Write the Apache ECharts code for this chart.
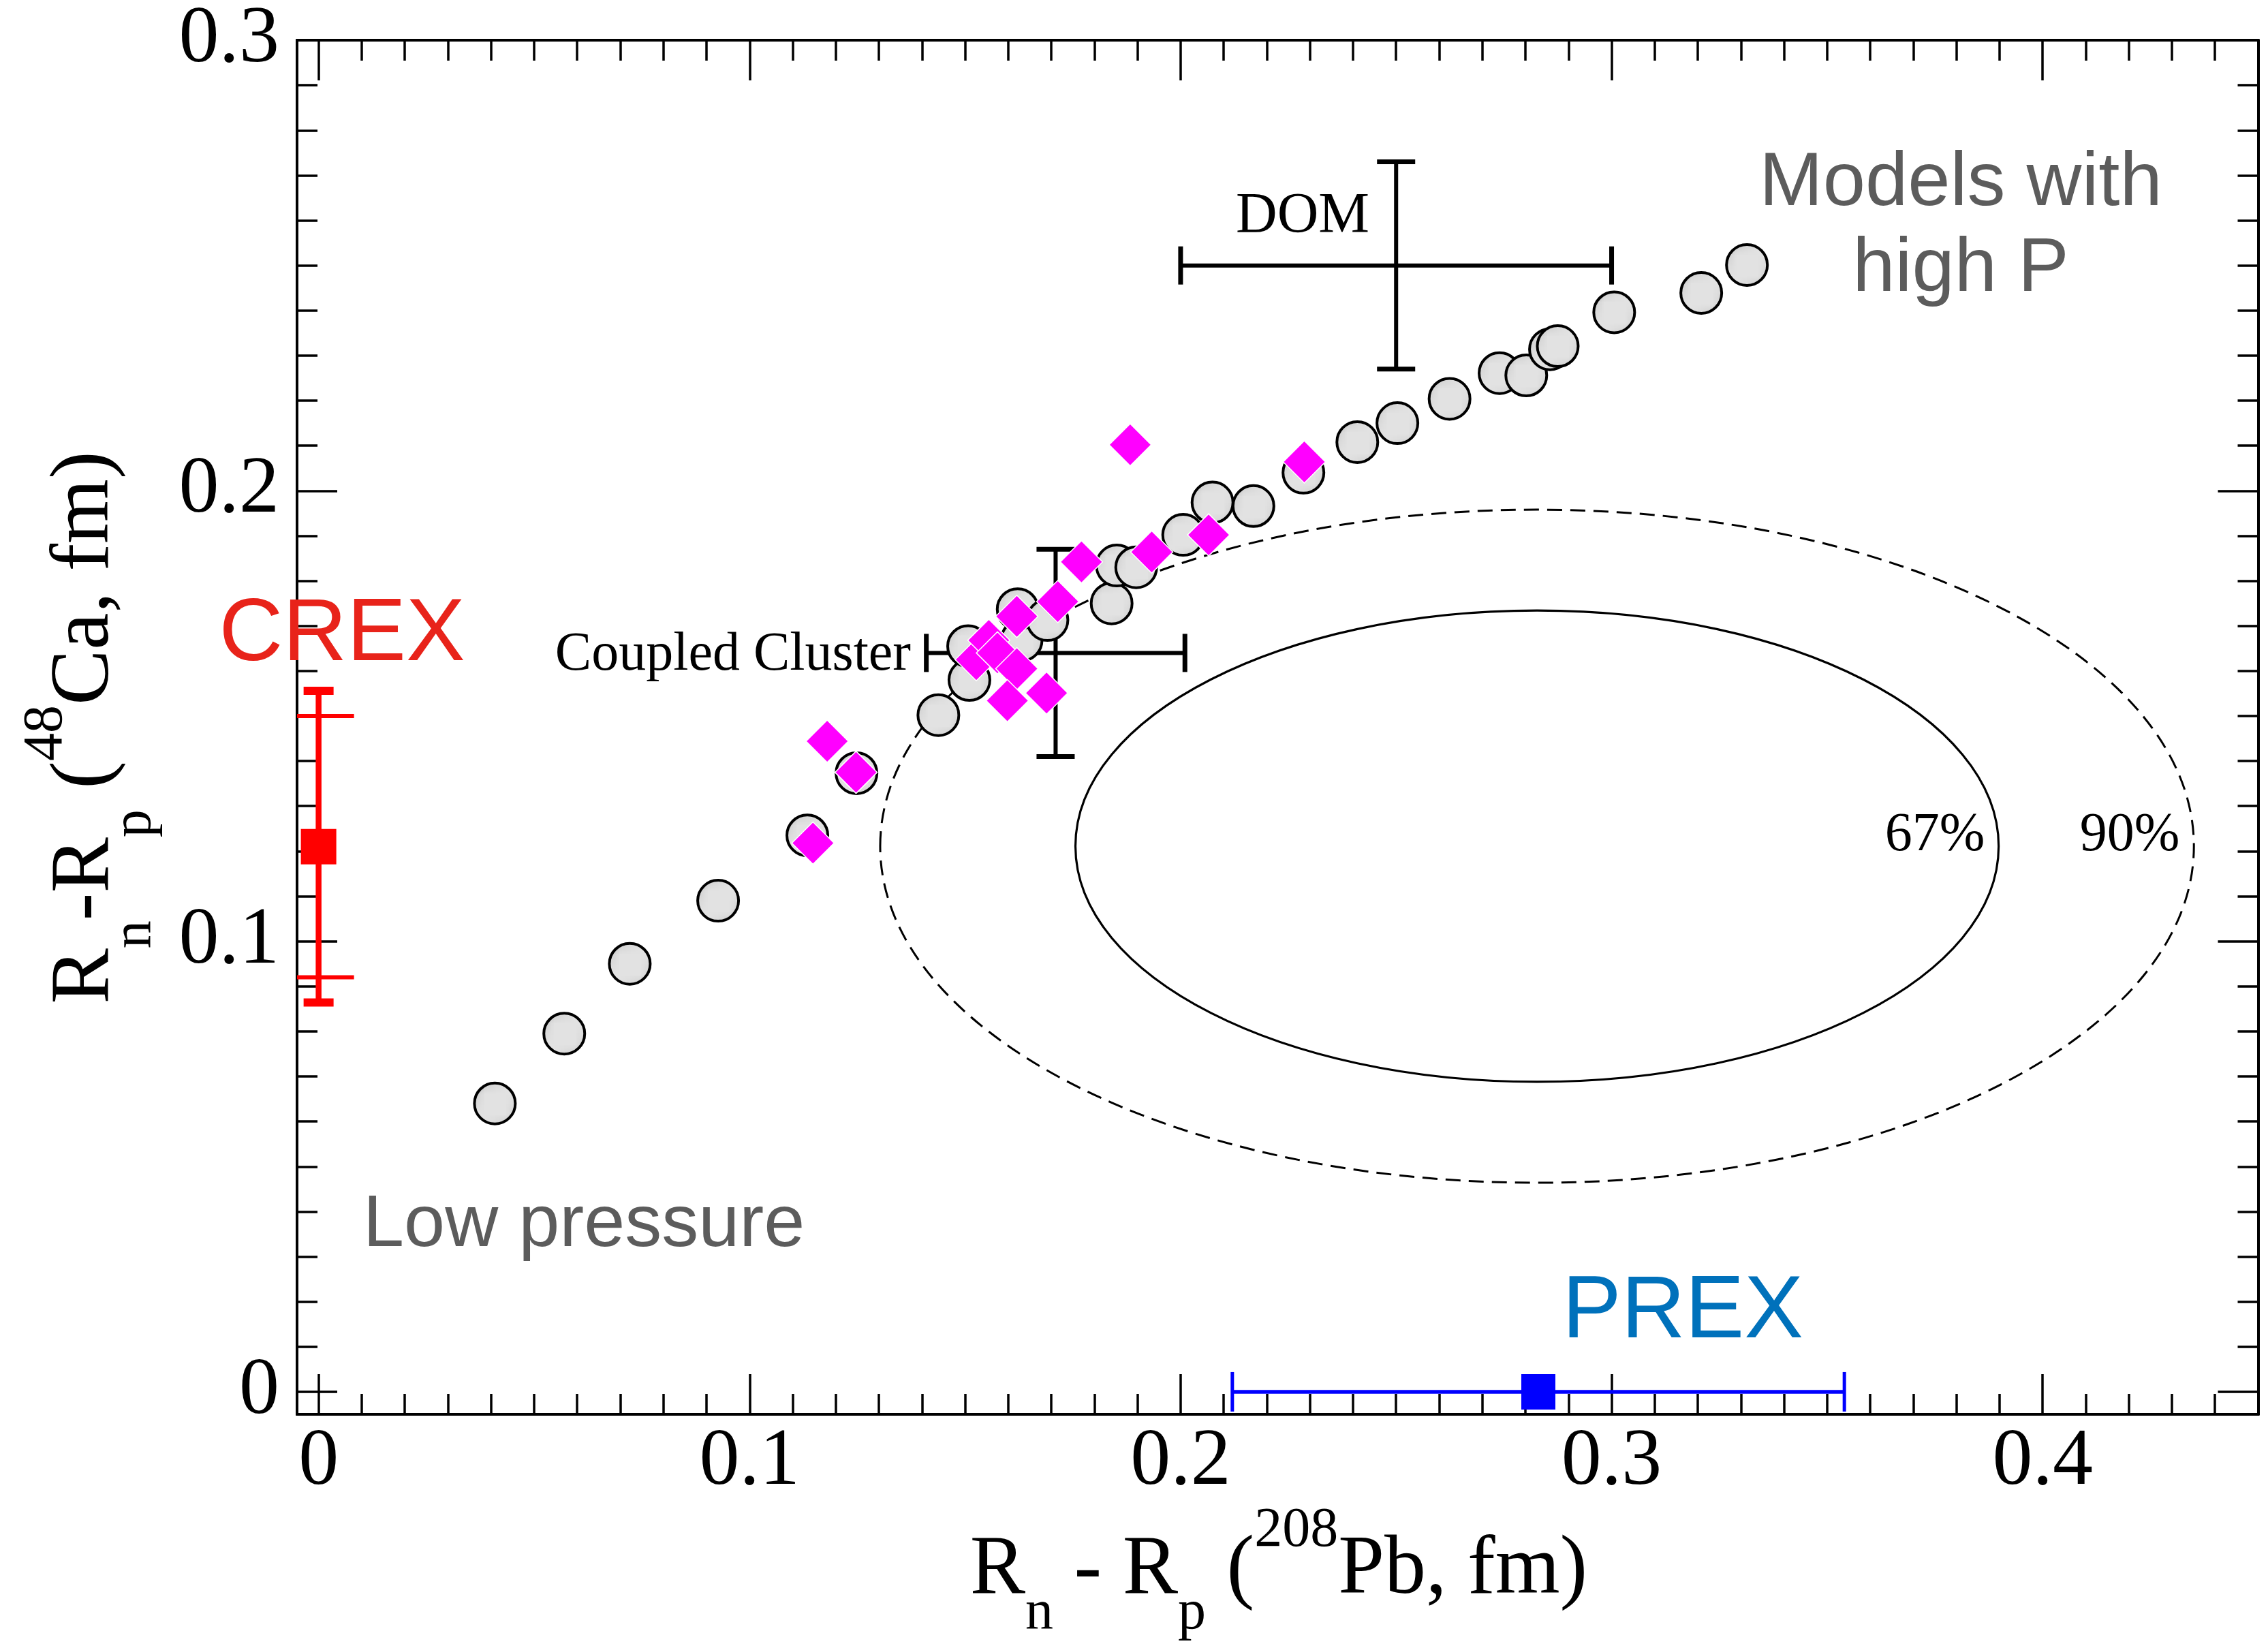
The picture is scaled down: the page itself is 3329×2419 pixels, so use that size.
<!DOCTYPE html>
<html>
<head>
<meta charset="utf-8">
<script src="https://cdn.jsdelivr.net/npm/echarts@6.0.0/dist/echarts.min.js"></script>
<style>
  html, body { margin: 0; padding: 0; background: #ffffff; }
  #chart { width: 3329px; height: 2419px; }
</style>
</head>
<body>
<div id="chart"></div>
<script>
// ---- Neutron-skin thickness: 208Pb (x) vs 48Ca (y), in fm ----

// Energy-density-functional models (stippled circles)
const circlePb = [0.0409, 0.0570, 0.0722, 0.0927, 0.1134, 0.1248, 0.1438, 0.1510, 0.1507, 0.1631,
                  0.1622, 0.1691, 0.1840, 0.1852, 0.1897, 0.2006, 0.2074, 0.2169, 0.2285, 0.2410,
                  0.2503, 0.2624, 0.2740, 0.2802, 0.2857, 0.2875, 0.3006, 0.3208, 0.3314];
const circleCa = [0.0640, 0.0795, 0.0950, 0.1090, 0.1235, 0.1373, 0.1502, 0.1580, 0.1655, 0.1668,
                  0.1737, 0.1713, 0.1750, 0.1834, 0.1830, 0.1902, 0.1974, 0.1966, 0.2040, 0.2108,
                  0.2150, 0.2204, 0.2261, 0.2256, 0.2314, 0.2321, 0.2396, 0.2439, 0.2501];

// Additional model set (magenta diamonds)
const diamondPb = [0.1147, 0.1180, 0.1247, 0.1526, 0.1555, 0.1575, 0.1620, 0.1620, 0.1598, 0.1689,
                   0.1715, 0.1770, 0.1883, 0.1933, 0.2065, 0.2287];
const diamondCa = [0.1218, 0.1444, 0.1375, 0.1625, 0.1668, 0.1640, 0.1721, 0.1605, 0.1534, 0.1551,
                   0.1754, 0.1842, 0.2102, 0.1864, 0.1902, 0.2064];

// Ab initio / optical-model estimates with uncertainties
const domCenter = [0.250, 0.250];
const domErr = [0.050, 0.023];
const ccCenter = [0.171, 0.164];
const ccErr = [0.030, 0.023];

// Parity-violation measurements
const prexValue = 0.283;
const prexErr = 0.071;
const crexValue = 0.121;
const crexErrInner = 0.029;
const crexErrOuter = 0.0346;

// Joint confidence contours (axis-aligned ellipses)
const contourLevels = ['67%', '90%'];
const contourCenter = [0.2827, 0.1211];
const contourSemiPb = [0.1071, 0.1524];
const contourSemiCa = [0.0523, 0.0747];

// Axis ticks
const xTickValues = [0, 0.1, 0.2, 0.3, 0.4];
const yTickValues = [0, 0.1, 0.2, 0.3];
const xMinorValues = [];
for (let i = 0; i <= 44; i++) xMinorValues.push(+(i * 0.01).toFixed(2));
const yMinorValues = [];
for (let i = 0; i <= 30; i++) yMinorValues.push(+(i * 0.01).toFixed(2));

const X_MIN = -0.005, X_MAX = 0.45;
const Y_MIN = -0.005, Y_MAX = 0.3;

const SERIF = 'Liberation Serif';
const SANS = 'Liberation Sans';

// Stipple fill for the circle markers
const stipple = document.createElement('canvas');
stipple.width = 9; stipple.height = 9;
(function () {
  const g = stipple.getContext('2d');
  g.fillStyle = '#e2e2e2';
  g.fillRect(0, 0, 9, 9);
  g.fillStyle = '#262626';
  g.beginPath(); g.arc(2.25, 2.25, 1.7, 0, Math.PI * 2); g.fill();
  g.beginPath(); g.arc(6.75, 6.75, 1.7, 0, Math.PI * 2); g.fill();
})();

function zip(a, b) { return a.map((v, i) => [v, b[i]]); }

function makeX(position, values, len, width, withLabels) {
  return {
    type: 'value', position: position, min: X_MIN, max: X_MAX,
    axisLine: { show: true, onZero: false, lineStyle: { color: '#000', width: 4 } },
    axisTick: { show: true, inside: true, length: len, customValues: values,
                lineStyle: { color: '#000', width: width } },
    axisLabel: withLabels ? {
      show: true, customValues: values, margin: 12, color: '#000',
      fontFamily: SERIF, fontSize: 118
    } : { show: false },
    splitLine: { show: false }
  };
}
function makeY(position, values, len, width, withLabels) {
  return {
    type: 'value', position: position, min: Y_MIN, max: Y_MAX,
    axisLine: { show: true, onZero: false, lineStyle: { color: '#000', width: 4 } },
    axisTick: { show: true, inside: true, length: len, customValues: values,
                lineStyle: { color: '#000', width: width } },
    axisLabel: withLabels ? {
      show: true, customValues: values, margin: 26, color: '#000',
      fontFamily: SERIF, fontSize: 118
    } : { show: false },
    splitLine: { show: false }
  };
}

function seg(a, b, w, color) {
  return { type: 'line', shape: { x1: a[0], y1: a[1], x2: b[0], y2: b[1] },
           style: { stroke: color, lineWidth: w } };
}

function titleRich(subShift, supShift) {
  return {
    m: { fontFamily: SERIF, fontSize: 122, lineHeight: 150, color: '#000' },
    s: { fontFamily: SERIF, fontSize: 82, lineHeight: 150, color: '#000', padding: [2 * subShift, 0, 0, 0] },
    u: { fontFamily: SERIF, fontSize: 82, lineHeight: 150, color: '#000', padding: [0, 0, 2 * supShift, 0] }
  };
}

function label(text, x, y, font, size, color, align) {
  return {
    type: 'text', x: x, y: y, z: 10,
    style: {
      text: text, fontFamily: font, fontSize: size, fill: color,
      align: align || 'center', verticalAlign: 'middle',
      textAlign: align || 'center', textVerticalAlign: 'middle'
    }
  };
}

const chart = echarts.init(document.getElementById('chart'), null, { renderer: 'canvas' });

const option = {
  animation: false,
  backgroundColor: '#ffffff',
  grid: { left: 436, top: 59, right: 14.5, bottom: 343, containLabel: false, outerBoundsMode: 'none' },
  xAxis: [
    makeX('bottom', xTickValues, 59, 3.5, true),
    makeX('bottom', xMinorValues, 30, 3.5, false),
    makeX('top', xTickValues, 59, 3.5, false),
    makeX('top', xMinorValues, 30, 3.5, false)
  ],
  yAxis: [
    makeY('left', yTickValues, 59, 3.5, true),
    makeY('left', yMinorValues, 30, 3.5, false),
    makeY('right', yTickValues, 59, 3.5, false),
    makeY('right', yMinorValues, 30, 3.5, false)
  ],
  series: [
    {
      name: 'models', type: 'scatter', data: zip(circlePb, circleCa),
      symbol: 'circle', symbolSize: 60,
      itemStyle: { color: { image: stipple, repeat: 'repeat' }, borderColor: '#000', borderWidth: 4, opacity: 1 }
    },
    {
      name: 'models-2', type: 'scatter', data: zip(diamondPb, diamondCa),
      symbol: 'diamond', symbolSize: 62,
      itemStyle: { color: '#ff00ff', borderColor: '#ffffff', borderWidth: 1.5, opacity: 1 }
    },
    {
      name: 'contours', type: 'custom', clip: true,
      data: contourLevels.map((lv, i) => [contourCenter[0], contourCenter[1], contourSemiPb[i], contourSemiCa[i], i]),
      renderItem: function (params, api) {
        const c = api.coord([api.value(0), api.value(1)]);
        const rx = api.size([api.value(2), 0])[0];
        const ry = api.size([0, api.value(3)])[1];
        const outer = api.value(4) === 1;
        return {
          type: 'ellipse',
          shape: { cx: c[0], cy: c[1], rx: rx, ry: ry },
          style: { fill: 'none', stroke: '#000', lineWidth: outer ? 3 : 3.2, lineDash: outer ? [22, 12] : null }
        };
      }
    },
    {
      name: 'theory-bars', type: 'custom', clip: true,
      data: [[domCenter[0], domCenter[1], domErr[0], domErr[1]],
             [ccCenter[0], ccCenter[1], ccErr[0], ccErr[1]]],
      renderItem: function (params, api) {
        const x = api.value(0), y = api.value(1), ex = api.value(2), ey = api.value(3);
        const L = api.coord([x - ex, y]), R = api.coord([x + ex, y]);
        const T = api.coord([x, y + ey]), B = api.coord([x, y - ey]);
        const h = 28, w = 6, cw = 7;
        return {
          type: 'group', children: [
            seg(L, R, w, '#000'),
            seg(T, B, w, '#000'),
            seg([L[0], L[1] - h], [L[0], L[1] + h], cw, '#000'),
            seg([R[0], R[1] - h], [R[0], R[1] + h], cw, '#000'),
            seg([T[0] - h, T[1]], [T[0] + h, T[1]], cw, '#000'),
            seg([B[0] - h, B[1]], [B[0] + h, B[1]], cw, '#000')
          ]
        };
      }
    },
    {
      name: 'PREX-bar', type: 'custom', clip: true,
      data: [[prexValue, 0, prexErr]],
      renderItem: function (params, api) {
        const x = api.value(0), y = api.value(1), ex = api.value(2);
        const L = api.coord([x - ex, y]), R = api.coord([x + ex, y]);
        const col = '#0000ff', h = 29;
        return {
          type: 'group', children: [
            seg(L, R, 5.5, col),
            seg([L[0], L[1] - h], [L[0], L[1] + h], 5, col),
            seg([R[0], R[1] - h], [R[0], R[1] + h], 5, col)
          ]
        };
      }
    },
    {
      name: 'CREX-bar', type: 'custom', clip: true,
      data: [[0, crexValue, crexErrInner, crexErrOuter]],
      renderItem: function (params, api) {
        const x = api.value(0), y = api.value(1), e1 = api.value(2), e2 = api.value(3);
        const T2 = api.coord([x, y + e2]), B2 = api.coord([x, y - e2]);
        const T1 = api.coord([x, y + e1]), B1 = api.coord([x, y - e1]);
        const col = '#ff0000';
        return {
          type: 'group', children: [
            seg(T2, B2, 8.5, col),
            seg([T1[0] - 52, T1[1]], [T1[0] + 52, T1[1]], 6, col),
            seg([B1[0] - 52, B1[1]], [B1[0] + 52, B1[1]], 6, col),
            seg([T2[0] - 22, T2[1]], [T2[0] + 22, T2[1]], 12, col),
            seg([B2[0] - 22, B2[1]], [B2[0] + 22, B2[1]], 12, col)
          ]
        };
      }
    },
    {
      name: 'PREX', type: 'scatter', data: [[prexValue, 0]],
      symbol: 'rect', symbolSize: [50, 52],
      itemStyle: { color: '#0000ff', opacity: 1 }
    },
    {
      name: 'CREX', type: 'scatter', data: [[0, crexValue]],
      symbol: 'rect', symbolSize: [52, 52],
      itemStyle: { color: '#ff0000', opacity: 1 }
    }
  ],
  graphic: [
    // axis titles
    {
      type: 'text', x: 1877, y: 2306, z: 10,
      style: {
        text: '{m|R}{s|n}{m| - R}{s|p}{m| (}{u|208}{m|Pb, fm)}',
        rich: titleRich(62, 59),
        align: 'center', verticalAlign: 'middle', textAlign: 'center', textVerticalAlign: 'middle'
      }
    },
    {
      type: 'text', x: 126, y: 1068, rotation: Math.PI / 2, z: 10,
      style: {
        text: '{m|R}{s|n}{m|-R}{s|p}{m| (}{u|48}{m|Ca, fm)}',
        rich: titleRich(72, 58),
        align: 'center', verticalAlign: 'middle', textAlign: 'center', textVerticalAlign: 'middle'
      }
    },
    // annotations
    label('CREX', 502, 933, SANS, 130, '#e8231a'),
    label('PREX', 2470, 1927, SANS, 130, '#0071bb'),
    label('Low pressure', 533, 1799, SANS, 108, '#5c5c5c', 'left'),
    label('Models with', 2878, 270, SANS, 112, '#5c5c5c'),
    label('high P', 2878, 396, SANS, 112, '#5c5c5c'),
    label('DOM', 1912, 319, SERIF, 84, '#000'),
    label('Coupled Cluster', 1337, 962, SERIF, 80, '#000', 'right'),
    label(contourLevels[0], 2840, 1227, SERIF, 80, '#000'),
    label(contourLevels[1], 3126, 1227, SERIF, 80, '#000')
  ]
};

chart.setOption(option);
</script>
</body>
</html>
